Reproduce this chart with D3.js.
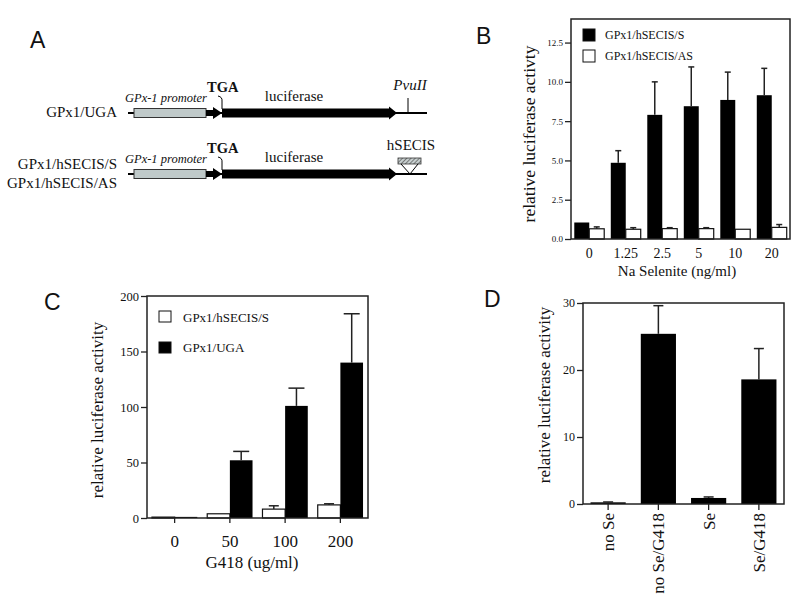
<!DOCTYPE html>
<html><head><meta charset="utf-8">
<script src="https://cdn.jsdelivr.net/npm/d3@7"></script>
<style>
body{margin:0;background:#fff}
svg{display:block}
text{font-family:"Liberation Serif","Times New Roman",serif;fill:#111}
.letter{font-family:"Liberation Sans",Arial,sans-serif;font-size:23px}
</style>
</head><body><svg id="c" width="800" height="610"></svg>
<script>
// ---------- DATA ----------
const constructLabels = ["GPx1/UGA", "GPx1/hSECIS/S", "GPx1/hSECIS/AS"];

const bCats = ["0", "1.25", "2.5", "5", "10", "20"];
const bSeries = ["GPx1/hSECIS/S", "GPx1/hSECIS/AS"];
const bS = [1.05, 4.85, 7.9, 8.45, 8.85, 9.15];
const bSErr = [0, 0.77, 2.1, 2.5, 1.77, 1.71];
const bAS = [0.65, 0.62, 0.66, 0.66, 0.62, 0.74];
const bASErr = [0.12, 0.1, 0.06, 0.06, 0, 0.18];
const bTicks = [0, 2.5, 5, 7.5, 10, 12.5];

const cCats = ["0", "50", "100", "200"];
const cSeries = ["GPx1/hSECIS/S", "GPx1/UGA"];
const cS = [0.8, 3.8, 8, 11.8];
const cSErr = [0, 0, 3, 1];
const cUGA = [1, 52, 101, 140];
const cUGAErr = [0, 8, 16, 44];
const cTicks = [0, 50, 100, 150, 200];

const dCats = ["no Se", "no Se/G418", "Se", "Se/G418"];
const dVals = [0.25, 25.4, 0.9, 18.6];
const dErr = [0.05, 4.2, 0.15, 4.6];
const dTicks = [0, 10, 20, 30];

// ---------- SETUP ----------
const svg = d3.select("#c");
const defs = svg.append("defs");
const pat = defs.append("pattern").attr("id","hatch").attr("patternUnits","userSpaceOnUse")
  .attr("width",3).attr("height",3).attr("patternTransform","rotate(45)");
pat.append("rect").attr("width",3).attr("height",3).attr("fill","#c8d0d0");
pat.append("line").attr("x1",0).attr("y1",0).attr("x2",0).attr("y2",3).attr("stroke","#555").attr("stroke-width",1.4);

function letter(t, x, y){ svg.append("text").attr("class","letter").attr("x",x).attr("y",y).text(t); }

// ---------- PANEL A ----------
letter("A", 30, 48);
const A = svg.append("g");
function construct(y, secis){
  A.append("line").attr("x1",128).attr("x2",427).attr("y1",y).attr("y2",y).attr("stroke","#000").attr("stroke-width",2);
  A.append("rect").attr("x",134).attr("y",y-4.5).attr("width",72).attr("height",9)
    .attr("fill","#bfc9c9").attr("stroke","#333").attr("stroke-width",1);
  A.append("path").attr("d",`M206,${y-3}H213V${y-6}L222,${y}L213,${y+6}V${y+3}H206Z`).attr("fill","#000");
  A.append("path").attr("d",`M222,${y-4.5}H389V${y-6.5}L397,${y}L389,${y+6.5}V${y+4.5}H222Z`).attr("fill","#000");
  A.append("path").attr("d",`M218,${y-17} Q222.5,${y-16} 222,${y-12} L222,${y-4}`).attr("fill","none").attr("stroke","#000").attr("stroke-width",1);
  A.append("text").attr("x",125).attr("y",y-11).style("font-style","italic").style("font-size","12.5px").text("GPx-1 promoter");
  A.append("text").attr("x",207).attr("y",y-21).style("font-weight","bold").style("font-size","14.5px").text("TGA");
  A.append("text").attr("x",294).attr("y",y-12).attr("text-anchor","middle").style("font-size","15px").text("luciferase");
  if(!secis){
    A.append("line").attr("x1",408).attr("x2",408).attr("y1",y-15).attr("y2",y).attr("stroke","#000").attr("stroke-width",1);
    A.append("text").attr("x",410).attr("y",y-23).attr("text-anchor","middle").style("font-style","italic").style("font-size","15px").text("PvuII");
  } else {
    A.append("rect").attr("x",398).attr("y",y-16).attr("width",23).attr("height",6).attr("fill","url(#hatch)").attr("stroke","#333").attr("stroke-width",0.8);
    A.append("path").attr("d",`M401,${y-10}L410,${y}L418,${y-10}`).attr("fill","none").attr("stroke","#000").attr("stroke-width",1);
    A.append("text").attr("x",411).attr("y",y-24).attr("text-anchor","middle").style("font-size","15px").text("hSECIS");
  }
}
construct(113, false);
construct(174, true);
A.append("text").attr("x",117).attr("y",117).attr("text-anchor","end").style("font-size","15px").text(constructLabels[0]);
A.append("text").attr("x",117).attr("y",169).attr("text-anchor","end").style("font-size","15px").text(constructLabels[1]);
A.append("text").attr("x",117).attr("y",188).attr("text-anchor","end").style("font-size","15px").text(constructLabels[2]);

// ---------- helpers ----------
function frame(g, x0, x1, y0, y1){
  g.append("rect").attr("x",x0).attr("y",y0).attr("width",x1-x0).attr("height",y1-y0)
    .attr("fill","none").attr("stroke","#222").attr("stroke-width",1.5);
}
function yAxis(g, y, x0, ticks, fmt, fs){
  const ax = g.append("g").attr("transform",`translate(${x0},0)`)
    .call(d3.axisLeft(y).tickValues(ticks).tickFormat(fmt).tickSize(6).tickPadding(2));
  ax.select(".domain").remove();
  ax.selectAll("line").attr("stroke","#222").attr("stroke-width",1.3);
  ax.selectAll("text").style("font-family","'Liberation Serif',serif").style("font-size",fs).attr("fill","#111");
}
function errBars(g, xs, vals, errs, y, capW){
  vals.forEach((v,i)=>{
    if(!errs[i]) return;
    const x = xs[i];
    g.append("line").attr("x1",x).attr("x2",x).attr("y1",y(v)).attr("y2",y(v+errs[i])).attr("stroke","#222").attr("stroke-width",1.5);
    g.append("line").attr("x1",x-capW/2).attr("x2",x+capW/2).attr("y1",y(v+errs[i])).attr("y2",y(v+errs[i])).attr("stroke","#222").attr("stroke-width",1.5);
  });
}

// ---------- PANEL B ----------
letter("B", 476, 44);
const B = svg.append("g");
const bX0=571,bX1=790,bY0=19,bY1=239;
const bx = d3.scaleBand().domain(bCats).range([bX0,bX1]).paddingInner(0.18).paddingOuter(0.09);
const bsub = d3.scaleBand().domain(bSeries).range([0,bx.bandwidth()]);
const by = d3.scaleLinear().domain([0,14]).range([bY1,bY0]);
B.selectAll("rect.s").data(bS).join("rect").attr("class","s")
  .attr("x",(d,i)=>bx(bCats[i])+bsub(bSeries[0])).attr("width",bsub.bandwidth())
  .attr("y",d=>by(d)).attr("height",d=>by(0)-by(d)).attr("fill","#000");
B.selectAll("rect.as").data(bAS).join("rect").attr("class","as")
  .attr("x",(d,i)=>bx(bCats[i])+bsub(bSeries[1])).attr("width",bsub.bandwidth())
  .attr("y",d=>by(d)).attr("height",d=>by(0)-by(d)).attr("fill","#fff").attr("stroke","#111").attr("stroke-width",1.2);
errBars(B, bCats.map(c=>bx(c)+bsub(bSeries[0])+bsub.bandwidth()/2), bS, bSErr, by, 6);
errBars(B, bCats.map(c=>bx(c)+bsub(bSeries[1])+bsub.bandwidth()/2), bAS, bASErr, by, 6);
frame(B,bX0,bX1,bY0,bY1);
yAxis(B, by, bX0, bTicks, d3.format(".1f"), "9px");
B.selectAll("text.xt").data(bCats).join("text").attr("class","xt")
  .attr("x",d=>bx(d)+bx.bandwidth()/2).attr("y",258).attr("text-anchor","middle").style("font-size","14px").text(d=>d);
B.append("text").attr("x",677).attr("y",276).attr("text-anchor","middle").style("font-size","15px").text("Na Selenite (ng/ml)");
B.append("text").attr("transform","translate(535,134) rotate(-90)").attr("text-anchor","middle").style("font-size","17.5px").text("relative luciferase activty");
// legend B
[[bSeries[0],"#000",29,39],[bSeries[1],"#fff",50,60]].forEach(([t,f,ry,ty])=>{
  B.append("rect").attr("x",583).attr("y",ry).attr("width",12).attr("height",12).attr("fill",f).attr("stroke","#111").attr("stroke-width",1);
  B.append("text").attr("x",605).attr("y",ty).style("font-size","12px").text(t);
});

// ---------- PANEL C ----------
letter("C", 44, 310);
const C = svg.append("g");
const cX0=147,cX1=368,cY0=296,cY1=518;
const cx = d3.scaleBand().domain(cCats).range([cX0,cX1]).paddingInner(0.18).paddingOuter(0.09);
const csub = d3.scaleBand().domain(cSeries).range([0,cx.bandwidth()]);
const cy = d3.scaleLinear().domain([0,200]).range([cY1,cY0]);
C.selectAll("rect.s").data(cS).join("rect").attr("class","s")
  .attr("x",(d,i)=>cx(cCats[i])+csub(cSeries[0])).attr("width",csub.bandwidth())
  .attr("y",d=>cy(d)).attr("height",d=>cy(0)-cy(d)).attr("fill","#fff").attr("stroke","#111").attr("stroke-width",1.2);
C.selectAll("rect.u").data(cUGA).join("rect").attr("class","u")
  .attr("x",(d,i)=>cx(cCats[i])+csub(cSeries[1])).attr("width",csub.bandwidth())
  .attr("y",d=>cy(d)).attr("height",d=>cy(0)-cy(d)).attr("fill","#000");
errBars(C, cCats.map(c=>cx(c)+csub(cSeries[0])+csub.bandwidth()/2), cS, cSErr, cy, 10);
errBars(C, cCats.map(c=>cx(c)+csub(cSeries[1])+csub.bandwidth()/2), cUGA, cUGAErr, cy, 16);
frame(C,cX0,cX1,cY0,cY1);
yAxis(C, cy, cX0, cTicks, d3.format("d"), "12.5px");
C.selectAll("line.xtk").data(cCats).join("line").attr("class","xtk")
  .attr("x1",d=>cx(d)+cx.bandwidth()/2).attr("x2",d=>cx(d)+cx.bandwidth()/2).attr("y1",cY1).attr("y2",cY1+5).attr("stroke","#222").attr("stroke-width",1.3);
C.selectAll("text.xt").data(cCats).join("text").attr("class","xt")
  .attr("x",d=>cx(d)+cx.bandwidth()/2).attr("y",547).attr("text-anchor","middle").style("font-size","17px").text(d=>d);
C.append("text").attr("x",252).attr("y",568).attr("text-anchor","middle").style("font-size","17px").text("G418 (ug/ml)");
C.append("text").attr("transform","translate(103,410) rotate(-90)").attr("text-anchor","middle").style("font-size","17px").text("relative luciferase activity");
[[cSeries[0],"#fff",311,322],[cSeries[1],"#000",342,352]].forEach(([t,f,ry,ty])=>{
  C.append("rect").attr("x",159).attr("y",ry).attr("width",12).attr("height",11).attr("fill",f).attr("stroke","#111").attr("stroke-width",1);
  C.append("text").attr("x",183).attr("y",ty).style("font-size","13px").text(t);
});

// ---------- PANEL D ----------
letter("D", 484, 307);
const D = svg.append("g");
const dX0=583,dX1=784,dY0=303,dY1=504;
const dx = d3.scaleBand().domain(dCats).range([dX0,dX1]).paddingInner(0.3).paddingOuter(0.15);
const dy = d3.scaleLinear().domain([0,30]).range([dY1,dY0]);
D.selectAll("rect.b").data(dVals).join("rect").attr("class","b")
  .attr("x",(d,i)=>dx(dCats[i])).attr("width",dx.bandwidth())
  .attr("y",d=>dy(d)).attr("height",d=>dy(0)-dy(d)).attr("fill","#000");
errBars(D, dCats.map(c=>dx(c)+dx.bandwidth()/2), dVals, dErr, dy, 10);
frame(D,dX0,dX1,dY0,dY1);
yAxis(D, dy, dX0, dTicks, d3.format("d"), "12px");
D.selectAll("line.xtk").data(dCats).join("line").attr("class","xtk")
  .attr("x1",d=>dx(d)+dx.bandwidth()/2).attr("x2",d=>dx(d)+dx.bandwidth()/2).attr("y1",dY1).attr("y2",dY1+6).attr("stroke","#222").attr("stroke-width",1.3);
D.selectAll("text.xt").data(dCats).join("text").attr("class","xt")
  .attr("transform",d=>`translate(${dx(d)+dx.bandwidth()/2},513) rotate(-90)`)
  .attr("text-anchor","end").attr("dy","0.35em").style("font-size","17px").text(d=>d);
D.append("text").attr("transform","translate(550,395) rotate(-90)").attr("text-anchor","middle").style("font-size","17px").text("relative luciferase activity");
</script>
</body></html>
